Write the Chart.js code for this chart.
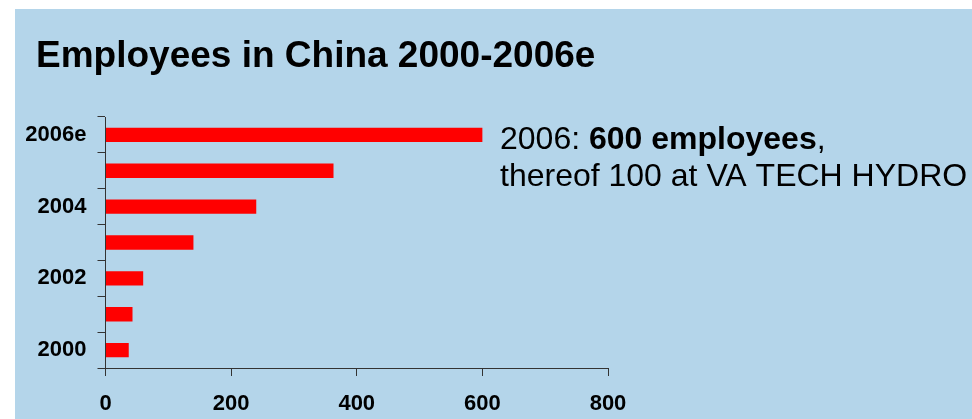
<!DOCTYPE html>
<html>
<head>
<meta charset="utf-8">
<title>Employees in China 2000-2006e</title>
<script src="https://cdn.jsdelivr.net/npm/chart.js@4.4.1/dist/chart.umd.min.js"></script>
<style>
  html, body { margin: 0; padding: 0; background: #ffffff; overflow: hidden; }
  #wrap { width: 972px; height: 419px; position: relative; }
</style>
</head>
<body>
<div id="wrap"><canvas id="chart" width="972" height="419"></canvas></div>
<script>
// Headcount per year (2006 is an estimate)
const years = ['2000', '2001', '2002', '2003', '2004', '2005', '2006e'];
const employees = [37, 43, 60, 140, 240, 363, 600];
const xTickValues = [0, 200, 400, 600, 800];

const titleText = 'Employees in China 2000-2006e';
const noteLine1 = [
  { text: '2006: ', bold: false },
  { text: '600 employees', bold: true },
  { text: ',', bold: false }
];
const noteLine2 = 'thereof 100 at VA TECH HYDRO';

const FONT = '"Liberation Sans", Arial, Helvetica, sans-serif';
const PANEL = '#b4d5ea';
const AXIS = '#333333';

// Light-blue panel with a thin white margin on the top and left
const panelPlugin = {
  id: 'panel',
  beforeDraw(chart) {
    const ctx = chart.ctx;
    ctx.save();
    ctx.fillStyle = '#ffffff';
    ctx.fillRect(0, 0, chart.width, chart.height);
    ctx.fillStyle = PANEL;
    ctx.fillRect(15, 9, chart.width - 15, chart.height - 9);
    ctx.restore();
  }
};

// Heading and the side note
const textPlugin = {
  id: 'texts',
  afterDraw(chart) {
    const ctx = chart.ctx;
    ctx.save();
    ctx.fillStyle = '#000000';
    ctx.textBaseline = 'alphabetic';
    ctx.textAlign = 'left';

    ctx.font = 'bold 37px ' + FONT;
    ctx.fillText(titleText, 36, 67);

    let x = 500;
    noteLine1.forEach(part => {
      ctx.font = (part.bold ? 'bold ' : '') + '32px ' + FONT;
      ctx.fillText(part.text, x, 149);
      x += ctx.measureText(part.text).width;
    });
    ctx.font = '32px ' + FONT;
    ctx.fillText(noteLine2, 500, 186);
    ctx.restore();
  }
};

const tickFont = { family: FONT, weight: 'bold', size: 22 };

new Chart(document.getElementById('chart'), {
  type: 'bar',
  data: {
    labels: years,
    datasets: [{
      label: 'Employees',
      data: employees,
      backgroundColor: '#ff0000',
      borderWidth: 0,
      barPercentage: 0.4,
      categoryPercentage: 1.0
    }]
  },
  options: {
    indexAxis: 'y',
    responsive: false,
    animation: false,
    devicePixelRatio: 1,
    layout: { padding: { top: 117, right: 364, bottom: 0, left: 0 } },
    plugins: {
      legend: { display: false },
      tooltip: { enabled: false },
      title: { display: false }
    },
    scales: {
      x: {
        type: 'linear',
        min: 0,
        max: 800,
        afterBuildTicks(scale) {
          scale.ticks = xTickValues.map(v => ({ value: v }));
        },
        afterFit(scale) { scale.height = 51; },
        grid: { drawOnChartArea: false, drawTicks: true, tickLength: 8, color: AXIS },
        border: { display: true, color: AXIS, width: 1 },
        ticks: { font: tickFont, color: '#000000', padding: 15, maxRotation: 0 }
      },
      y: {
        type: 'category',
        reverse: true,
        afterFit(scale) { scale.width = 105.5; },
        grid: { offset: true, drawOnChartArea: false, drawTicks: true, tickLength: 8, color: AXIS },
        border: { display: true, color: AXIS, width: 1 },
        ticks: {
          autoSkip: false,
          font: tickFont,
          color: '#000000',
          padding: 11,
          callback(value, index) {
            return index % 2 === 0 ? this.getLabelForValue(value) : '';
          }
        }
      }
    }
  },
  plugins: [panelPlugin, textPlugin]
});
</script>
</body>
</html>
